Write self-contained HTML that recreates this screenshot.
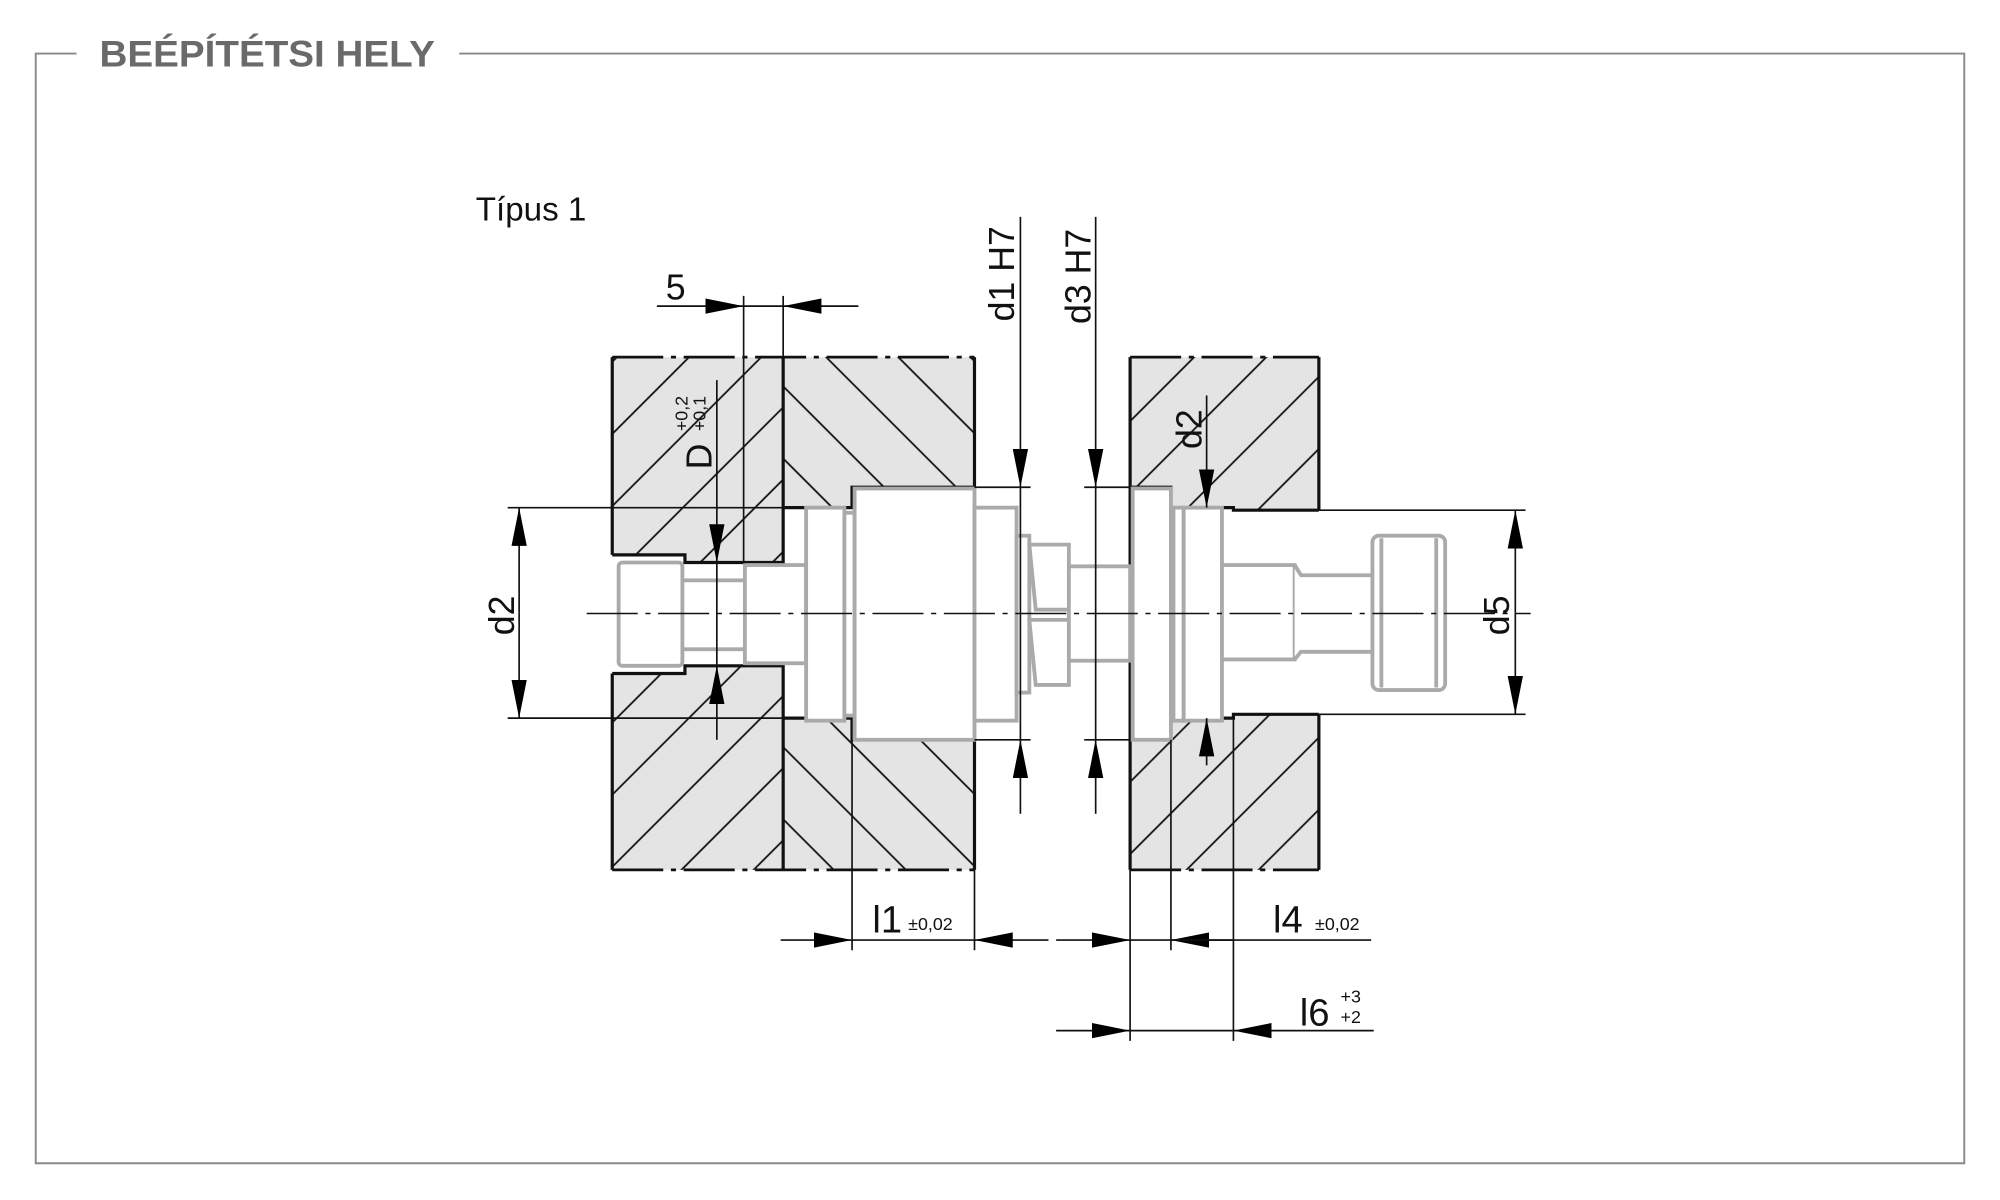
<!DOCTYPE html>
<html><head><meta charset="utf-8"><style>
html,body{margin:0;padding:0;background:#fff;}
svg{display:block;}
text{font-family:"Liberation Sans",sans-serif;}
</style></head><body>
<svg width="2000" height="1200" viewBox="0 0 1568 940.8" xmlns="http://www.w3.org/2000/svg">
<defs>
<pattern id="h1" width="40" height="40" patternUnits="userSpaceOnUse" patternTransform="rotate(45)"><rect width="40" height="40" fill="#e4e4e4"/><line x1="20" y1="0" x2="20" y2="40" stroke="#111" stroke-width="1.4"/></pattern>
<pattern id="h2" width="40" height="40" patternUnits="userSpaceOnUse" patternTransform="rotate(-45)"><rect width="40" height="40" fill="#e4e4e4"/><line x1="20" y1="0" x2="20" y2="40" stroke="#111" stroke-width="1.4"/></pattern>
<marker id="ar" viewBox="0 0 30 12" refX="30" refY="6" markerWidth="30" markerHeight="12" markerUnits="userSpaceOnUse" orient="auto"><path d="M0,0 L30,6 L0,12 z" fill="#000"/></marker>
</defs>

<path d="M60,42 H28 V912 H1540 V42 H360" fill="none" stroke="#888" stroke-width="1.5"/>
<text x="78" y="52" font-size="29" font-weight="bold" fill="#6a6a6a" textLength="263" lengthAdjust="spacingAndGlyphs">BEÉPÍTÉTSI HELY</text>
<text x="373" y="173" font-size="26" fill="#111">Típus 1</text>

<path d="M480,280 H614 V682 H480 Z M480,435 H537 V441 H614 V522 H537 V528 H480 Z" fill="url(#h1)" fill-rule="evenodd"/>
<path d="M614,280 H764 V682 H614 Z M614,398 H668 V382 H764 V580 H668 V563 H614 Z" fill="url(#h2)" fill-rule="evenodd"/>
<path d="M886,280 H1034 V682 H886 Z M886,382 H918 V398 H967 V400 H1034 V560 H967 V563 H918 V580 H886 Z" fill="url(#h1)" fill-rule="evenodd"/>

<g stroke="#111" stroke-width="2.5" fill="none">
<line x1="480" y1="280" x2="480" y2="435"/><line x1="480" y1="528" x2="480" y2="682"/>
<line x1="614" y1="280" x2="614" y2="682"/>
<line x1="764" y1="280" x2="764" y2="382"/><line x1="764" y1="580" x2="764" y2="682"/>
<polyline points="480,435 537,435 537,441 614,441"/>
<polyline points="480,528 537,528 537,522 614,522"/>
<polyline points="614,398 668,398 668,382 764,382"/>
<polyline points="614,563 668,563 668,580 764,580"/>
<line x1="886" y1="280" x2="886" y2="682"/>
<line x1="1034" y1="280" x2="1034" y2="400"/><line x1="1034" y1="560" x2="1034" y2="682"/>
<polyline points="886,382 918,382 918,398 967,398 967,400 1034,400"/>
<polyline points="886,580 918,580 918,563 967,563 967,560 1034,560"/>
</g>
<g stroke="#111" stroke-width="2.2" stroke-dasharray="40,6,4,6">
<line x1="480" y1="280" x2="764" y2="280"/><line x1="480" y1="682" x2="764" y2="682"/>
<line x1="886" y1="280" x2="1034" y2="280"/><line x1="886" y1="682" x2="1034" y2="682"/>
</g>

<g stroke="#aaa" stroke-width="3" fill="#fff">
<rect x="485" y="441" width="50" height="81" rx="3"/>
<rect x="535" y="455" width="49" height="54"/>
<rect x="584" y="443" width="48" height="77"/>
<rect x="632" y="398" width="30" height="167"/>
<rect x="662" y="402" width="8" height="159"/>
<rect x="670" y="383" width="94" height="197"/>
<rect x="764" y="398" width="33" height="167"/>
<rect x="797" y="420" width="10" height="123"/>
<path d="M807,427 H838 V478 H812 Z M807,486 H838 V537 H812 Z"/>
<rect x="838" y="444" width="48" height="74"/>
<rect x="888" y="383" width="30" height="197"/>
<rect x="920" y="398" width="8" height="167"/>
<rect x="928" y="398" width="30" height="167"/>
<rect x="958" y="443" width="57" height="74"/>
<path d="M1015,443 L1020,451 H1076 V511 H1020 L1015,517"/>
<rect x="1076" y="420" width="57" height="121" rx="5"/>
<line x1="1083" y1="422" x2="1083" y2="539"/><line x1="1126" y1="422" x2="1126" y2="539"/>
</g>

<line x1="460" y1="481" x2="1200" y2="481" stroke="#111" stroke-width="1.2" stroke-dasharray="40,6,4,6"/>

<g stroke="#111" stroke-width="1.3" fill="none">
<line x1="583" y1="232" x2="583" y2="441"/>
<line x1="614" y1="232" x2="614" y2="280"/>
<line x1="515" y1="240" x2="583" y2="240" marker-end="url(#ar)"/>
<line x1="673" y1="240" x2="614" y2="240" marker-end="url(#ar)"/>
<line x1="583" y1="240" x2="614" y2="240"/>
<line x1="562" y1="298" x2="562" y2="441" marker-end="url(#ar)"/>
<line x1="562" y1="580" x2="562" y2="522" marker-end="url(#ar)"/>
<line x1="562" y1="441" x2="562" y2="522"/>
<line x1="550" y1="441" x2="584" y2="441"/><line x1="550" y1="522" x2="584" y2="522"/>
<line x1="398" y1="398" x2="614" y2="398"/><line x1="398" y1="563" x2="614" y2="563"/>
<line x1="407" y1="480" x2="407" y2="398" marker-end="url(#ar)"/>
<line x1="407" y1="480" x2="407" y2="563" marker-end="url(#ar)"/>
<line x1="764" y1="382" x2="808" y2="382"/><line x1="764" y1="580" x2="808" y2="580"/>
<line x1="800" y1="170" x2="800" y2="382" marker-end="url(#ar)"/>
<line x1="800" y1="638" x2="800" y2="580" marker-end="url(#ar)"/>
<line x1="800" y1="382" x2="800" y2="580"/>
<line x1="850" y1="382" x2="886" y2="382"/><line x1="850" y1="580" x2="886" y2="580"/>
<line x1="859" y1="170" x2="859" y2="382" marker-end="url(#ar)"/>
<line x1="859" y1="638" x2="859" y2="580" marker-end="url(#ar)"/>
<line x1="859" y1="382" x2="859" y2="580"/>
<line x1="946" y1="310" x2="946" y2="398" marker-end="url(#ar)"/>
<line x1="946" y1="600" x2="946" y2="563" marker-end="url(#ar)"/>
<line x1="1034" y1="400" x2="1196" y2="400"/><line x1="1034" y1="560" x2="1196" y2="560"/>
<line x1="1188" y1="480" x2="1188" y2="400" marker-end="url(#ar)"/>
<line x1="1188" y1="480" x2="1188" y2="560" marker-end="url(#ar)"/>
<line x1="668" y1="580" x2="668" y2="745"/>
<line x1="764" y1="682" x2="764" y2="745"/>
<line x1="886" y1="682" x2="886" y2="816"/>
<line x1="918" y1="580" x2="918" y2="745"/>
<line x1="967" y1="563" x2="967" y2="816"/>
<line x1="612" y1="737" x2="668" y2="737" marker-end="url(#ar)"/>
<line x1="822" y1="737" x2="764" y2="737" marker-end="url(#ar)"/>
<line x1="668" y1="737" x2="764" y2="737"/>
<line x1="828" y1="737" x2="886" y2="737" marker-end="url(#ar)"/>
<line x1="967" y1="737" x2="918" y2="737" marker-end="url(#ar)"/>
<line x1="886" y1="737" x2="1075" y2="737"/>
<line x1="828" y1="808" x2="886" y2="808" marker-end="url(#ar)"/>
<line x1="1077" y1="808" x2="967" y2="808" marker-end="url(#ar)"/>
<line x1="886" y1="808" x2="967" y2="808"/>
</g>

<g fill="#111">
<text x="522" y="235" font-size="28">5</text>
<text transform="translate(558,368) rotate(-90)" font-size="28">D</text>
<text transform="translate(539,338) rotate(-90)" font-size="14">+0,2</text>
<text transform="translate(553,338) rotate(-90)" font-size="14">+0,1</text>
<text transform="translate(403,498) rotate(-90)" font-size="28">d2</text>
<text transform="translate(795,252) rotate(-90)" font-size="28">d1 H7</text>
<text transform="translate(855,254) rotate(-90)" font-size="28">d3 H7</text>
<text transform="translate(942,352) rotate(-90)" font-size="28">d2</text>
<text transform="translate(1183,498) rotate(-90)" font-size="28">d5</text>
<text x="684" y="731" font-size="30">l1</text>
<text x="712" y="729" font-size="14">±0,02</text>
<text x="998" y="731" font-size="30">l4</text>
<text x="1031" y="729" font-size="14">±0,02</text>
<text x="1019" y="804" font-size="30">l6</text>
<text x="1051" y="786" font-size="14">+3</text>
<text x="1051" y="802" font-size="14">+2</text>
</g>
</svg>
</body></html>
